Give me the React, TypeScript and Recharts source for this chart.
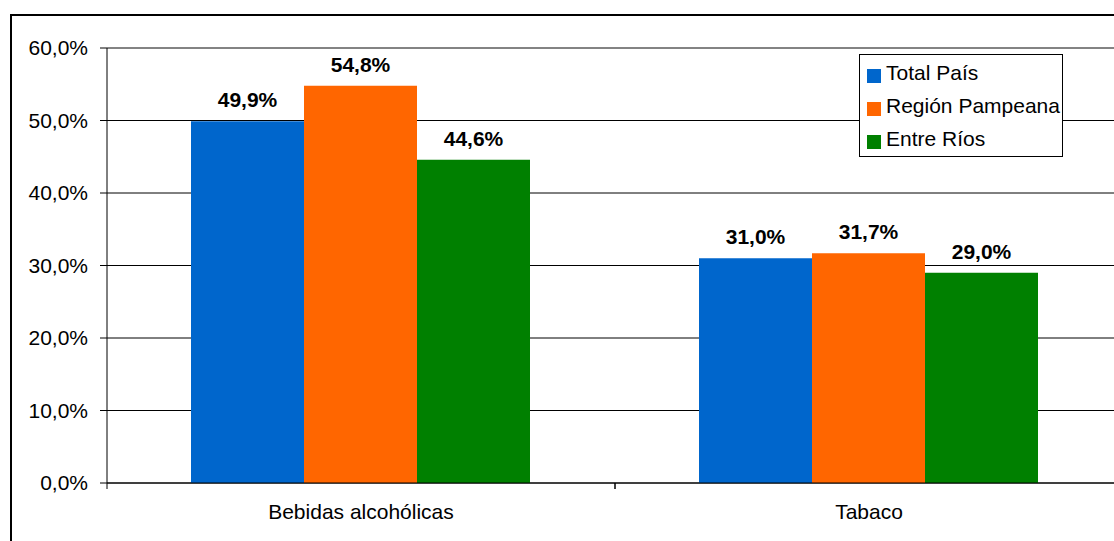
import React from 'react';
import { BarChart, Bar, XAxis, YAxis, CartesianGrid, Legend, LabelList, ReferenceLine } from 'recharts';

const categories = ['Bebidas alcohólicas', 'Tabaco'];
const seriesNames = ['Total País', 'Región Pampeana', 'Entre Ríos'];
const totalPais = [49.9, 31.0];
const regionPampeana = [54.8, 31.7];
const entreRios = [44.6, 29.0];
const yTicks = [0, 10, 20, 30, 40, 50, 60];

const data = categories.map((name, i) => ({
  name,
  total: totalPais[i],
  region: regionPampeana[i],
  entre: entreRios[i],
}));

const font = 'Liberation Sans, Arial, sans-serif';
const pct = (v: number) => v.toFixed(1).replace('.', ',') + '%';
const TICK_MARGIN = 21;
const labelStyle = { fill: '#000', fontSize: 21, fontWeight: 'bold', fontFamily: font };

const renderLegend = (props: any) => {
  const items = [...(props.payload || [])].sort(
    (a: any, b: any) => seriesNames.indexOf(a.value) - seriesNames.indexOf(b.value)
  );
  return (
    <div
      style={{
        width: '100%',
        height: '100%',
        boxSizing: 'border-box',
        border: '1.5px solid #000',
        background: '#fff',
        paddingTop: 1,
        fontFamily: font,
        fontSize: 21,
        color: '#000',
      }}
    >
      {items.map((entry: any) => (
        <div key={entry.value} style={{ display: 'flex', alignItems: 'center', height: 33, paddingLeft: 7 }}>
          <span style={{ display: 'inline-block', width: 14, height: 14, background: entry.color, marginRight: 5, marginTop: 6 }} />
          <span>{entry.value}</span>
        </div>
      ))}
    </div>
  );
};

// category label plus a tick mark on the band boundaries
const CategoryTick = (props: any) => {
  const { x, y, payload } = props;
  const half = payload && typeof payload.offset === 'number' ? payload.offset : 0;
  const axisY = y - TICK_MARGIN;
  return (
    <g>
      <line x1={x - half} x2={x - half} y1={axisY} y2={axisY + 6} stroke="#000" />
      <line x1={x + half} x2={x + half} y1={axisY} y2={axisY + 6} stroke="#000" />
      <text x={x} y={y} dy={15} textAnchor="middle" fill="#000" fontSize={21} fontFamily={font}>
        {payload.value}
      </text>
    </g>
  );
};

export default function App() {
  return (
    <div style={{ position: 'absolute', left: 0, top: 0, width: 1114, height: 541, overflow: 'hidden', background: '#fff' }}>
      <div style={{ position: 'absolute', left: 10, top: 14, width: 1200, height: 600, border: '2px solid #000' }} />
      <div style={{ position: 'absolute', left: 0, top: 0 }}>
        <BarChart
          width={1200}
          height={541}
          data={data}
          margin={{ top: 48, right: 77, left: 10, bottom: 18 }}
          barCategoryGap={84}
          barGap={0}
        >
          <CartesianGrid horizontal vertical={false} stroke="#000" strokeOpacity={1} />
          <ReferenceLine y={60} stroke="#888" />
          <XAxis
            dataKey="name"
            height={40}
            tickSize={0}
            tickMargin={TICK_MARGIN}
            tickLine={false}
            axisLine={{ stroke: '#000' }}
            tick={<CategoryTick />}
          />
          <YAxis
            width={97}
            domain={[0, 60]}
            ticks={yTicks}
            tickFormatter={pct}
            tickSize={7}
            tickMargin={12}
            axisLine={{ stroke: '#000' }}
            tickLine={{ stroke: '#000' }}
            tick={{ fill: '#000', fontSize: 21, fontFamily: font }}
          />
          <Legend
            layout="vertical"
            align="center"
            verticalAlign="middle"
            content={renderLegend}
            wrapperStyle={{ left: 859, top: 54, width: 204, height: 103 }}
          />
          <Bar dataKey="total" name="Total País" fill="#0066CC" isAnimationActive={false}>
            <LabelList dataKey="total" position="top" offset={14} formatter={pct} style={labelStyle} />
          </Bar>
          <Bar dataKey="region" name="Región Pampeana" fill="#FF6600" isAnimationActive={false}>
            <LabelList dataKey="region" position="top" offset={14} formatter={pct} style={labelStyle} />
          </Bar>
          <Bar dataKey="entre" name="Entre Ríos" fill="#008000" isAnimationActive={false}>
            <LabelList dataKey="entre" position="top" offset={14} formatter={pct} style={labelStyle} />
          </Bar>
        </BarChart>
      </div>
    </div>
  );
}
